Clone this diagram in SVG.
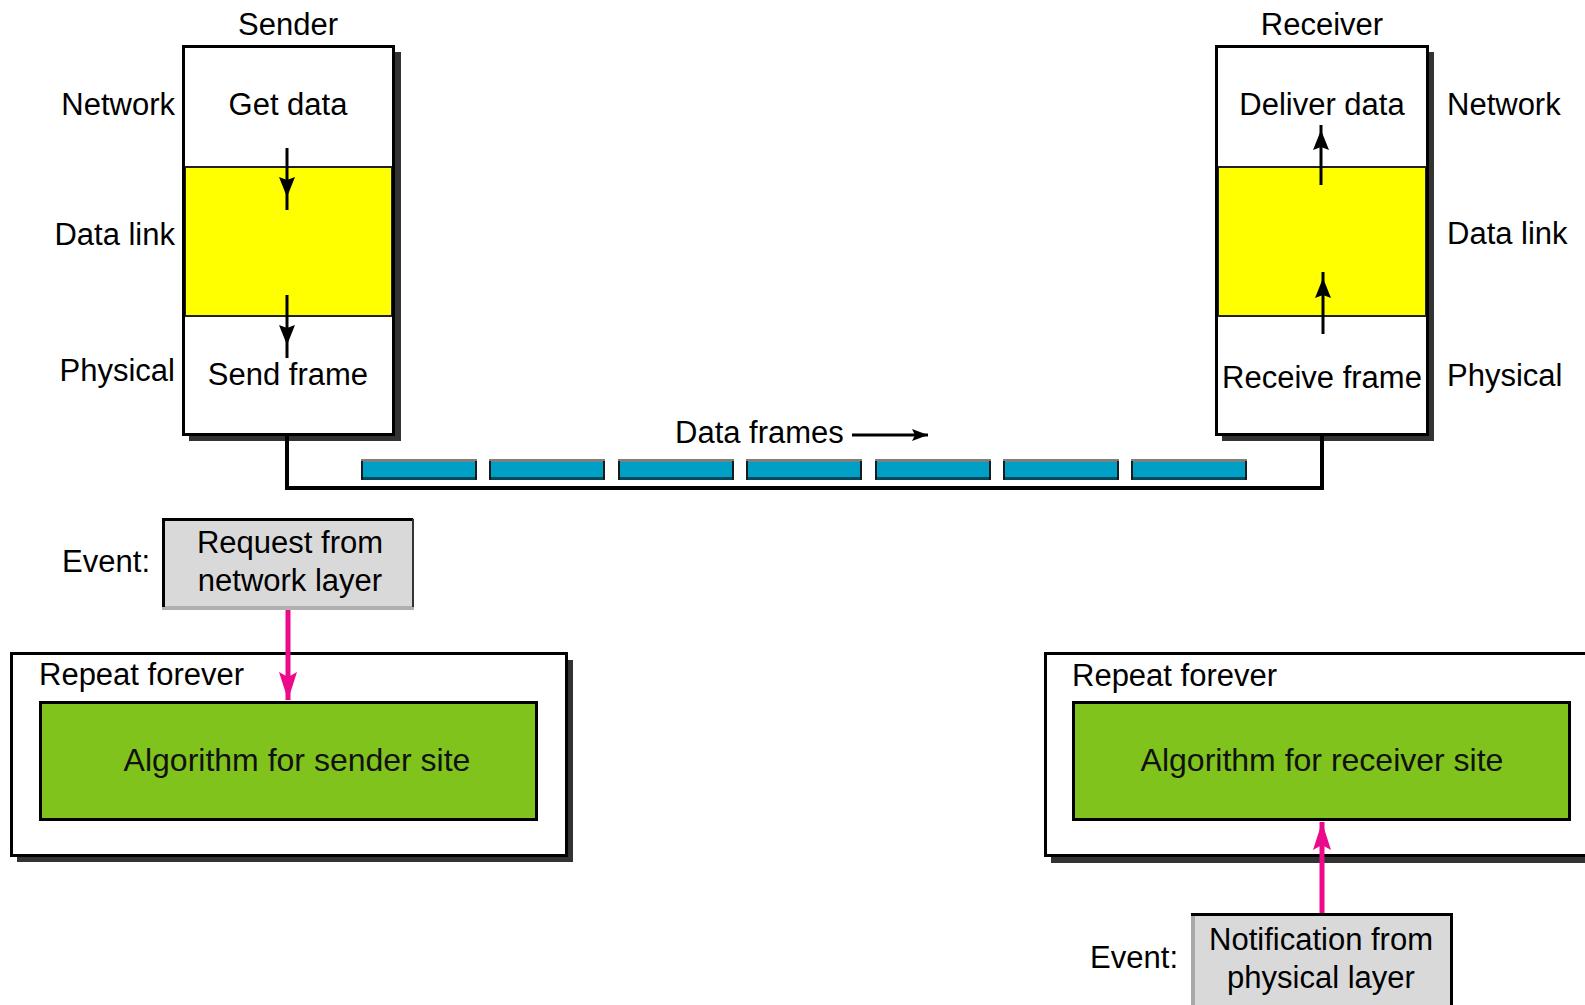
<svg xmlns="http://www.w3.org/2000/svg" xmlns:xlink="http://www.w3.org/1999/xlink" width="1585" height="1005" viewBox="0 0 1585 1005">
  <style>
    text { font-family: "Liberation Sans", Arial, sans-serif; font-size: 31px; fill: #000; }
    .mid { text-anchor: middle; }
    .end { text-anchor: end; }
    .algo { font-size: 32px; fill: #111; }
    .shadow { fill: #333333; }
    .box { fill: #ffffff; stroke: #000; stroke-width: 3; }
    .band { fill: #ffff00; stroke: #222; stroke-width: 2; }
    .green { fill: #7fc31c; stroke: #000; stroke-width: 3; }
    .event { fill: #d9d9d9; }
    .flow { fill: none; stroke: #000; stroke-width: 3; }
    .pink { fill: none; stroke: #ec0a8a; stroke-width: 5; }
    .link { fill: none; stroke: #000; stroke-width: 4; }
  </style>
  <defs>
    <marker id="head" markerUnits="userSpaceOnUse" markerWidth="24" markerHeight="18" refX="20" refY="8" orient="auto" overflow="visible">
      <path d="M20,8 L0,0 L3,8 L0,16 Z" fill="#000"/>
    </marker>
    <marker id="headSmall" markerUnits="userSpaceOnUse" markerWidth="20" markerHeight="14" refX="16" refY="6" orient="auto" overflow="visible">
      <path d="M16,6 L0,0 L3,6 L0,12 Z" fill="#000"/>
    </marker>
    <marker id="headPink" markerUnits="userSpaceOnUse" markerWidth="30" markerHeight="20" refX="28" refY="9" orient="auto" overflow="visible">
      <path d="M28,9 L0,0 L5,9 L0,18 Z" fill="#ec0a8a"/>
    </marker>
    <!-- one frame on the wire: bevelled cyan bar -->
    <g id="frame">
      <rect x="0" y="0" width="116" height="21" fill="#00a0c6"/>
      <rect x="0" y="0" width="116" height="3" fill="#7f7f7f"/>
      <rect x="0" y="18" width="116" height="3" fill="#004b5b"/>
      <rect x="0" y="2" width="2" height="19" fill="#1a1a1a"/>
      <rect x="114" y="2" width="2" height="19" fill="#1a1a1a"/>
    </g>
  </defs>

  <!-- Sender protocol stack -->
  <g id="sender">
    <text class="mid" x="288" y="35">Sender</text>
    <rect class="shadow" x="189" y="52" width="212" height="389"/>
    <rect class="box" x="183.5" y="46.5" width="210" height="388"/>
    <rect class="band" x="185" y="167" width="207" height="149"/>
    <rect x="183.5" y="46.5" width="210" height="388" fill="none" stroke="#000" stroke-width="3"/>
    <text class="mid" x="288" y="115">Get data</text>
    <text class="mid" x="288" y="385">Send frame</text>
    <text class="end" x="175" y="115">Network</text>
    <text class="end" x="175" y="245">Data link</text>
    <text class="end" x="175" y="381">Physical</text>
  </g>

  <!-- Receiver protocol stack -->
  <g id="receiver">
    <text class="mid" x="1322" y="35">Receiver</text>
    <rect class="shadow" x="1222" y="52" width="212" height="389"/>
    <rect class="box" x="1216.5" y="46.5" width="211" height="388"/>
    <rect class="band" x="1218" y="167" width="208" height="149"/>
    <rect x="1216.5" y="46.5" width="211" height="388" fill="none" stroke="#000" stroke-width="3"/>
    <text class="mid" x="1322" y="115">Deliver data</text>
    <text class="mid" x="1322" y="388">Receive frame</text>
    <text x="1447" y="115">Network</text>
    <text x="1447" y="244">Data link</text>
    <text x="1447" y="386">Physical</text>
  </g>

  <!-- Frames in transit -->
  <g id="frames">
    <use xlink:href="#frame" x="361" y="459"/>
    <use xlink:href="#frame" x="489" y="459"/>
    <use xlink:href="#frame" x="618" y="459"/>
    <use xlink:href="#frame" x="746" y="459"/>
    <use xlink:href="#frame" x="875" y="459"/>
    <use xlink:href="#frame" x="1003" y="459"/>
    <use xlink:href="#frame" x="1131" y="459"/>
    <text x="675" y="443">Data frames</text>
  </g>

  <!-- Sender event and loop -->
  <g id="sender-event">
    <rect class="event" x="162" y="518" width="252" height="92"/>
    <rect x="162" y="606" width="252" height="4" fill="#b0b0b0"/>
    <path d="M163.5,607 V519.5 H413" fill="none" stroke="#000" stroke-width="3"/>
    <line x1="413" y1="519" x2="413" y2="607" stroke="#333" stroke-width="2"/>
    <text class="end" x="150" y="572">Event:</text>
    <text class="mid" x="290" y="553">Request from</text>
    <text class="mid" x="290" y="591">network layer</text>
  </g>
  <g id="sender-loop">
    <rect class="shadow" x="17" y="660" width="556" height="202"/>
    <rect class="box" x="11.5" y="653.5" width="555" height="202"/>
    <text x="39" y="685">Repeat forever</text>
    <rect class="green" x="40.5" y="702.5" width="496" height="117"/>
    <text class="mid algo" x="297" y="771">Algorithm for sender site</text>
  </g>

  <!-- Receiver event and loop -->
  <g id="receiver-loop">
    <rect class="shadow" x="1051" y="660" width="560" height="203"/>
    <rect class="box" x="1045.5" y="653.5" width="560" height="202"/>
    <text x="1072" y="686">Repeat forever</text>
    <rect class="green" x="1073.5" y="702.5" width="496" height="117"/>
    <text class="mid algo" x="1322" y="771">Algorithm for receiver site</text>
  </g>
  <g id="receiver-event">
    <rect class="event" x="1191" y="913" width="262" height="100"/>
    <rect x="1191" y="913" width="4" height="100" fill="#a8a8a8"/>
    <path d="M1191,914.5 H1451.5 V1010" fill="none" stroke="#000" stroke-width="3"/>
    <text class="end" x="1178" y="968">Event:</text>
    <text class="mid" x="1321" y="950">Notification from</text>
    <text class="mid" x="1321" y="988">physical layer</text>
  </g>

  <!-- Connectors -->
  <g id="connectors">
    <path class="flow" d="M287,148 V197 V210" marker-mid="url(#head)"/>
    <path class="flow" d="M287,295 V345 V358" marker-mid="url(#head)"/>
    <path class="flow" d="M1321,185 V130 V125" marker-mid="url(#head)"/>
    <path class="flow" d="M1323,334 V278 V272" marker-mid="url(#head)"/>
    <path class="link" d="M287,434 V488 H1322 V434"/>
    <path class="flow" d="M852,435 H928" marker-end="url(#headSmall)"/>
    <path class="pink" d="M288,610 V700" marker-end="url(#headPink)"/>
    <path class="pink" d="M1322,913 V822" marker-end="url(#headPink)"/>
  </g>
</svg>
